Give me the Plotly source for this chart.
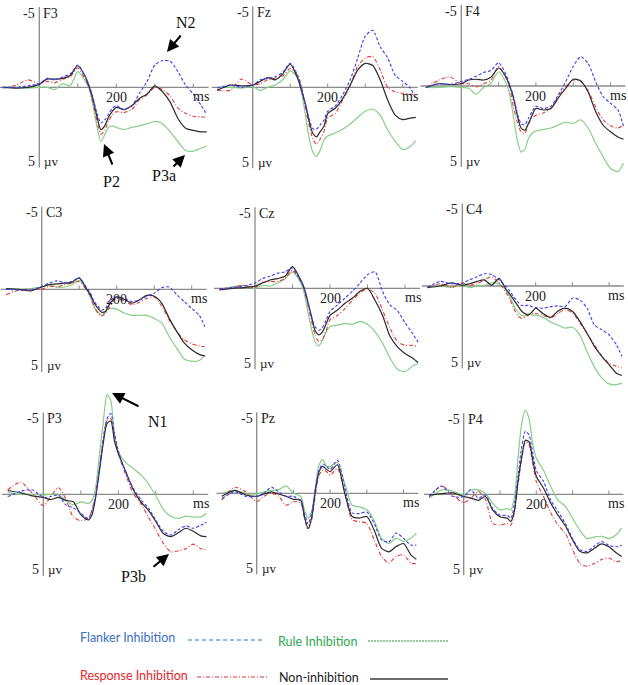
import plotly.graph_objects as go

# ---------------- data (time in ms, amplitude in microvolts; negative plotted upward) -------------
T = [-95, -60, -30, 0, 20, 40, 60, 80, 100, 120, 130, 140, 150, 160, 170, 180, 190, 200,
     220, 240, 260, 280, 300, 320, 340, 360, 380, 400, 420, 435]

F3_flanker = [0, 0, -0.1, -0.25, -0.6, -0.5, -0.7, -0.9, -1.5, -0.7, -0.1, 0.75, 1.75, 2.4, 2.2, 1.8, 1.4, 1.25, 1.5, 1.25, 0.4, -0.4, -1.5, -1.8, -1.75, -1.05, -0.15, 0.45, 1.2, 1.85]
F3_rule = [0, 0, 0.05, 0, 0, 0.15, -0.25, -0.1, -1.05, -0.4, 0.1, 1.3, 2.65, 3.65, 3.2, 2.7, 2.6, 2.7, 2.85, 2.7, 2.6, 2.45, 2.3, 2.45, 3.0, 3.65, 4.25, 4.3, 4.1, 3.95]
F3_response = [0.05, -0.15, -0.5, -0.25, -0.4, -0.3, -0.55, -0.7, -1.3, -0.5, 0.1, 1.1, 2.3, 3.15, 2.9, 2.25, 1.85, 1.65, 1.7, 1.5, 0.85, 0.5, 0.0, 0.15, 0.6, 1.4, 1.75, 1.95, 2.0, 2.0]
F3_non = [0, 0.05, 0, -0.2, -0.55, -0.55, -0.6, -0.8, -1.45, -0.7, 0, 0.85, 2.0, 2.85, 2.6, 2.0, 1.6, 1.35, 1.5, 1.25, 0.75, 0.45, -0.1, 0.3, 1.0, 2.1, 2.75, 2.9, 3.0, 3.0]

Fz_flanker = [0.05, -0.15, 0, -0.15, -0.5, -0.6, -0.7, -1.0, -1.6, -0.8, 0.05, 1.05, 2.05, 2.75, 2.8, 2.5, 2.2, 1.6, 1.25, 0.5, -0.5, -1.95, -3.4, -3.8, -2.7, -1.95, -0.8, -0.4, 0.05, 0.75]
Fz_rule = [0, 0, 0.05, -0.05, 0.2, 0, -0.15, -0.5, -1.1, -0.6, 0.3, 1.75, 3.3, 4.3, 4.6, 4.2, 3.5, 3.25, 3.05, 2.8, 2.45, 2.0, 1.6, 1.45, 1.85, 2.85, 3.6, 4.15, 3.95, 3.55]
Fz_response = [0.2, 0.2, -0.55, -0.15, -0.25, -0.5, -0.6, -0.75, -1.25, -0.8, -0.05, 1.3, 2.5, 3.4, 3.8, 3.45, 2.95, 2.05, 1.75, 0.85, -0.1, -1.4, -1.95, -2.05, -1.15, 0, 0.3, 0.4, 0.45, 0.5]
Fz_non = [0.2, -0.15, -0.1, -0.15, -0.4, -0.65, -0.5, -0.9, -1.55, -0.6, 0.2, 1.05, 2.2, 3.05, 3.3, 2.95, 2.6, 1.75, 1.4, 0.75, -0.15, -1.15, -1.6, -1.45, -0.5, 0.85, 1.85, 2.15, 2.05, 2.0]

F4_flanker = [0.1, -0.15, -0.1, -0.3, -0.45, -0.65, -0.9, -1.05, -1.55, -0.75, -0.05, 0.7, 1.8, 2.5, 2.6, 2.15, 1.7, 1.35, 1.5, 1.35, 0.6, -0.3, -1.3, -1.95, -1.5, -0.3, 0.7, 1.15, 1.6, 2.7]
F4_rule = [0.1, 0.1, 0.05, 0.1, 0.15, 0.55, 0.1, -0.2, -0.95, -0.2, 0.6, 2.05, 3.6, 4.4, 4.25, 3.5, 3.15, 3.0, 2.9, 2.8, 2.6, 2.4, 2.5, 2.25, 2.8, 3.8, 4.7, 5.5, 5.7, 5.15]
F4_response = [0.1, -0.4, -0.6, -0.15, -0.15, 0.05, -0.15, -0.4, -1.3, -0.5, 0.15, 1.4, 2.4, 3.05, 3.15, 2.55, 2.15, 1.95, 1.8, 1.5, 0.7, 0.05, -0.4, -0.3, 0.3, 1.4, 2.25, 2.65, 2.8, 2.6]
F4_non = [0.1, -0.15, -0.1, -0.15, -0.4, -0.45, -0.4, -0.6, -1.2, -0.6, 0, 0.8, 1.95, 2.8, 2.95, 2.5, 1.95, 1.5, 1.6, 1.5, 0.8, 0.15, -0.45, -0.35, 0.4, 1.7, 2.6, 3.05, 3.4, 3.55]

C3_flanker = [0, 0.05, 0.05, -0.2, -0.4, -0.55, -0.45, -0.5, -0.75, -0.1, 0.25, 0.8, 1.1, 1.35, 1.25, 0.85, 0.6, 0.5, 0.6, 0.8, 0.7, 0.45, 0.25, -0.1, -0.15, 0.35, 0.8, 1.25, 1.7, 2.45]
C3_rule = [-0.05, 0, -0.05, -0.15, -0.3, -0.15, -0.15, -0.3, -0.6, 0, 0.5, 1.15, 1.5, 1.7, 1.45, 1.25, 1.25, 1.3, 1.55, 1.7, 1.7, 1.7, 1.9, 2.2, 3.1, 3.85, 4.55, 4.7, 4.65, 4.3]
C3_response = [0.35, 0.05, 0, 0, -0.2, -0.15, -0.3, -0.4, -0.5, 0.05, 0.5, 1.15, 1.55, 1.75, 1.55, 1.2, 0.8, 0.6, 0.75, 1.0, 0.85, 0.6, 0.5, 1.1, 2.0, 2.75, 3.3, 3.55, 3.7, 3.75]
C3_non = [-0.05, 0, 0.1, -0.15, -0.3, -0.35, -0.4, -0.45, -0.75, 0, 0.35, 0.9, 1.25, 1.5, 1.45, 1.0, 0.7, 0.5, 0.65, 0.9, 0.7, 0.4, 0.45, 0.9, 1.9, 2.75, 3.5, 3.95, 4.25, 4.35]

Cz_flanker = [0.05, -0.05, -0.15, -0.35, -0.65, -0.8, -1.0, -1.1, -1.35, -0.55, -0.05, 0.8, 1.9, 2.55, 2.8, 2.6, 2.1, 1.55, 1.1, 0.65, 0.2, -0.35, -0.9, -1.1, 0.2, 1.1, 1.5, 2.3, 3.0, 3.6]
Cz_rule = [0.05, -0.1, -0.2, 0, -0.2, -0.15, -0.35, -0.65, -1.1, -0.45, 0.2, 1.45, 2.65, 3.55, 3.85, 3.45, 2.9, 2.55, 2.45, 2.35, 2.4, 2.2, 2.4, 2.9, 3.65, 4.65, 5.4, 5.55, 5.2, 5.0]
Cz_response = [0.05, -0.05, -0.2, -0.05, -0.4, -0.45, -0.45, -0.65, -1.2, -0.55, -0.05, 1.0, 2.1, 3.1, 3.55, 3.4, 2.8, 2.1, 1.8, 1.35, 0.8, 0.3, 0.05, 0.35, 1.45, 2.65, 3.55, 3.8, 3.8, 3.9]
Cz_non = [0.1, 0, -0.05, -0.15, -0.35, -0.55, -0.65, -0.8, -1.45, -0.65, -0.1, 0.8, 1.8, 2.8, 3.1, 2.9, 2.35, 1.8, 1.45, 1.0, 0.65, 0.2, 0, 0.8, 1.8, 3.2, 3.9, 4.35, 4.65, 4.95]

C4_flanker = [0.1, -0.3, -0.15, -0.2, -0.4, -0.6, -0.8, -0.75, -0.4, 0.05, 0.35, 0.7, 1.0, 1.25, 1.3, 1.25, 1.35, 1.4, 1.45, 1.35, 1.3, 1.35, 0.8, 0.9, 1.45, 2.55, 2.85, 3.2, 3.85, 4.6]
C4_rule = [0.1, 0, 0.1, -0.05, 0.1, 0, -0.05, -0.2, -0.15, 0.3, 0.7, 1.25, 1.65, 1.9, 1.95, 1.8, 1.9, 1.9, 2.05, 2.35, 2.55, 2.75, 2.7, 3.2, 4.3, 5.3, 6.0, 6.4, 6.45, 6.35]
C4_response = [0.1, -0.15, 0.1, -0.2, -0.05, -0.15, -0.4, -0.6, -0.2, 0.45, 0.9, 1.45, 1.9, 2.1, 2.05, 1.9, 1.8, 1.8, 1.9, 2.1, 1.8, 1.55, 1.75, 2.4, 3.1, 3.85, 4.55, 5.05, 5.25, 5.35]
C4_non = [0.1, 0, -0.2, -0.05, -0.15, -0.3, -0.4, -0.05, -0.5, 0.25, 0.55, 0.9, 1.25, 1.6, 1.8, 1.9, 1.7, 1.45, 1.8, 2.05, 1.65, 1.45, 1.65, 2.3, 3.1, 3.95, 4.6, 5.15, 5.7, 5.85]

P3_flanker = [0.15, -0.2, -0.3, 0.2, 0.15, 0.05, 0.7, 0.9, 1.25, 1.6, 1.05, 0.05, -1.8, -3.7, -5.0, -5.35, -4.0, -2.9, -1.4, -0.4, 0.35, 0.9, 1.7, 2.45, 2.7, 2.35, 2.1, 2.25, 2.05, 1.85]
P3_rule = [-0.15, 0, 0, 0.05, 0, 0, 0.4, 0.7, 0.5, 0.6, 0.4, -0.5, -2.7, -4.8, -6.6, -6.2, -3.8, -2.8, -2.1, -1.7, -1.3, -0.7, 0.1, 1.0, 1.45, 1.6, 1.45, 1.5, 1.5, 1.25]
P3_response = [-0.3, -0.8, -0.1, 0.75, 0.15, -0.45, 0.3, 1.5, 1.75, 1.6, 1.05, -0.05, -1.8, -3.7, -4.9, -5.0, -3.9, -2.7, -1.3, -0.05, 0.6, 1.5, 2.35, 3.25, 3.8, 3.75, 3.6, 3.3, 3.6, 3.65]
P3_non = [-0.25, -0.1, 0.1, 0.2, 0.35, 0.2, 0.4, 0.5, 1.35, 1.7, 1.35, 0.15, -1.6, -3.4, -4.7, -4.85, -3.5, -2.7, -1.5, -0.3, 0.5, 1.05, 1.8, 2.6, 2.8, 2.55, 2.25, 2.45, 2.75, 2.8]

Pz_flanker = [0.35, -0.1, 0.2, 0.2, 0, -0.4, -0.1, 0.2, 0.2, 0.55, 1.3, 2.05, 1.3, -0.3, -1.55, -1.95, -1.8, -1.6, -2.2, -0.4, 1.3, 1.35, 1.25, 2.0, 3.1, 3.25, 2.65, 3.0, 3.45, 3.45]
Pz_rule = [0, -0.2, 0, 0.05, -0.1, -0.2, -0.25, -0.5, 0, 0.2, 1.1, 1.65, 1.2, -0.45, -1.9, -2.25, -1.8, -1.8, -2.05, -0.65, 0.8, 0.9, 1.1, 1.8, 3.0, 3.35, 3.0, 3.2, 3.0, 2.65]
Pz_response = [0.45, -0.4, -0.1, 0.55, 0.2, 0, 0.2, 0.8, 0.55, 0.65, 1.65, 2.4, 1.75, 0.1, -1.2, -1.55, -1.45, -1.2, -1.65, 0, 1.75, 1.9, 2.0, 3.1, 4.2, 4.65, 4.2, 4.1, 4.65, 4.7]
Pz_non = [0.2, -0.2, 0.1, 0.2, 0.05, -0.1, 0.05, 0.2, 0.4, 0.45, 1.55, 2.35, 1.6, -0.2, -1.45, -1.8, -1.6, -1.45, -1.9, 0.0, 1.55, 1.65, 1.55, 2.45, 3.65, 3.9, 3.55, 3.35, 4.1, 4.4]

P4_flanker = [0.15, -0.55, 0.15, 0.15, -0.3, 0.25, 0.05, 0.95, 1.4, 1.4, 1.6, 0.6, -1.3, -3.2, -4.2, -3.95, -2.8, -1.6, -0.85, 0.4, 1.15, 1.95, 2.95, 3.7, 3.8, 3.45, 3.15, 3.4, 3.5, 3.4]
P4_rule = [0.25, -0.3, -0.2, 0.05, -0.3, -0.3, -0.05, 0.6, 1.05, 0.95, 1.05, 0.15, -2.5, -4.75, -5.6, -5.05, -3.4, -2.4, -1.6, -0.5, 0.4, 0.8, 1.6, 2.4, 2.95, 2.85, 2.8, 2.95, 2.7, 2.25]
P4_response = [0.15, -0.55, 0.05, 0.55, 0.25, -0.2, 0.35, 1.95, 2.05, 1.95, 2.05, 1.15, -0.7, -2.4, -3.5, -3.3, -2.1, -0.85, 0.15, 1.25, 2.05, 2.6, 3.7, 4.6, 4.8, 4.6, 4.35, 4.25, 4.5, 4.4]
P4_non = [0.05, -0.05, -0.1, 0.15, 0.25, 0.4, 0.15, 1.05, 1.5, 1.6, 1.8, 1.05, -0.95, -2.5, -3.6, -3.5, -2.3, -1.2, -0.4, 0.6, 1.4, 2.1, 3.05, 3.8, 3.9, 3.6, 3.3, 3.5, 3.9, 4.15]

CHANNELS = ["F3", "Fz", "F4", "C3", "Cz", "C4", "P3", "Pz", "P4"]
SERIES = [
    [F3_flanker, F3_rule, F3_response, F3_non],
    [Fz_flanker, Fz_rule, Fz_response, Fz_non],
    [F4_flanker, F4_rule, F4_response, F4_non],
    [C3_flanker, C3_rule, C3_response, C3_non],
    [Cz_flanker, Cz_rule, Cz_response, Cz_non],
    [C4_flanker, C4_rule, C4_response, C4_non],
    [P3_flanker, P3_rule, P3_response, P3_non],
    [Pz_flanker, Pz_rule, Pz_response, Pz_non],
    [P4_flanker, P4_rule, P4_response, P4_non],
]
CONDITIONS = ["Flanker Inhibition", "Rule Inhibition", "Response Inhibition", "Non-inhibition"]
AXIS_TICKS = [100, 200, 300, 400]

# ---------------- layout geometry (pixels) ----------------
W, H = 628, 685
# per panel: pixel x of t=0, px per ms, pixel y of 0 uV, px per uV
GEOM = [
    (39.3, 0.385, 87.3, 14.85), (252.7, 0.375, 87.3, 15.0), (461.3, 0.373, 86.0, 15.0),
    (41.7, 0.375, 289.3, 15.3), (255.0, 0.375, 288.3, 15.0), (462.3, 0.367, 286.0, 15.3),
    (43.3, 0.375, 494.3, 15.1), (256.7, 0.367, 493.3, 15.0), (463.7, 0.363, 494.3, 15.0),
]
ROWS = [(0, 182), (190, 396), (383, 596)]

# style for each condition: (colour, dash, width)
STYLES = [
    ("#3b3bf2", "3px,2px", 1.1),
    ("#86cf86", "solid", 1.2),
    ("#e63a36", "4px,2px,1px,2px", 1.1),
    ("#2a2a2a", "solid", 1.2),
]
DRAW_ORDER = [1, 2, 3, 0]

SERIF = "Liberation Serif"
AXCOL = "#8a8a8a"

fig = go.Figure()
shapes = []
annotations = []

for i, name in enumerate(CHANNELS):
    t0, s, y0, k = GEOM[i]
    top, bot = ROWS[i // 3]
    L = max(0.0, t0 - 110 * s)
    R = min(W, t0 + 445 * s)
    xr = [(L - t0) / s, (R - t0) / s]
    yr = [(bot - y0) / k, (top - y0) / k]
    sfx = "" if i == 0 else str(i + 1)
    xa, ya = "x" + sfx, "y" + sfx
    fig.layout["xaxis" + sfx] = dict(domain=[L / W, R / W], range=xr, visible=False,
                                     anchor=ya, fixedrange=True)
    fig.layout["yaxis" + sfx] = dict(domain=[1 - bot / H, 1 - top / H], range=yr,
                                     visible=False, anchor=xa, fixedrange=True)

    # axes
    shapes.append(dict(type="line", xref=xa, yref=ya, x0=0, x1=0, y0=-5.4, y1=5.4,
                       line=dict(color=AXCOL, width=1.3), layer="below"))
    shapes.append(dict(type="line", xref=xa, yref=ya, x0=xr[0], x1=440, y0=0, y1=0,
                       line=dict(color=AXCOL, width=1.3), layer="below"))
    for tk in AXIS_TICKS:
        shapes.append(dict(type="line", xref=xa, yref=ya, x0=tk, x1=tk, y0=0, y1=-0.25,
                           line=dict(color=AXCOL, width=1), layer="below"))

    # curves
    for j in DRAW_ORDER:
        col, dash, wd = STYLES[j]
        fig.add_trace(go.Scatter(x=T, y=SERIES[i][j], mode="lines", xaxis=xa, yaxis=ya,
                                 line=dict(color=col, dash=dash, width=wd, shape="spline",
                                           smoothing=0.7),
                                 name=CONDITIONS[j], showlegend=False, hoverinfo="skip"))

    tf = dict(family=SERIF, size=14, color="#222")
    annotations += [
        dict(x=0, y=-5, xref=xa, yref=ya, text="-5", showarrow=False, xanchor="right",
             xshift=-2, font=tf),
        dict(x=0, y=-5, xref=xa, yref=ya, text=name, showarrow=False, xanchor="left",
             xshift=2, font=tf),
        dict(x=0, y=5, xref=xa, yref=ya, text="5", showarrow=False, xanchor="right",
             xshift=-2, font=tf),
        dict(x=0, y=5, xref=xa, yref=ya, text="µv", showarrow=False, xanchor="left",
             xshift=3, font=dict(family=SERIF, size=13, color="#222")),
        dict(x=200, y=0, xref=xa, yref=ya, text="200", showarrow=False, yanchor="top",
             yshift=-1, font=tf),
        dict(x=420, y=0, xref=xa, yref=ya, text="ms", showarrow=False, yanchor="top",
             yshift=0, font=tf),
    ]

def px(x, y):
    return x / W, 1 - y / H

# component labels with arrows (positions in pixels)
COMPONENTS = [
    ("N2", (186, 22), (167, 52), (15, -18)),
    ("P2", (112, 181), (104, 144), (9, 22)),
    ("P3a", (164, 175), (185, 155), (-13, 13)),
    ("N1", (158, 421), (112, 393), (28, 14)),
    ("P3b", (133, 576), (169, 554), (-17, 14)),
]
for label, tpos, head, off in COMPONENTS:
    tx, ty = px(*tpos)
    annotations.append(dict(x=tx, y=ty, xref="paper", yref="paper", text=label, showarrow=False,
                            xanchor="center", yanchor="middle",
                            font=dict(family=SERIF, size=16, color="#111")))
    hx, hy = px(*head)
    annotations.append(dict(x=hx, y=hy, xref="paper", yref="paper", text="", showarrow=True,
                            ax=off[0], ay=off[1], arrowhead=2, arrowsize=1.2, arrowwidth=2,
                            arrowcolor="#000"))

# legend drawn manually
LEG = [
    ("Flanker Inhibition", "#3a6fc1", (78, 637), (188, 265, 640), "#5aaee8", "4px,3px", 1.3),
    ("Rule Inhibition", "#2ea84f", (276, 641), (368, 448, 641), "#3a9a3a", "2px,1px", 1.1),
    ("Response Inhibition", "#e5262b", (78, 675), (197, 268, 677), "#e0303a", "4px,2px,1px,2px", 1.2),
    ("Non-inhibition", "#222222", (277, 677), (370, 448, 679), "#6b6b6b", "solid", 2),
]
for text, tcol, (tx, ty), (lx0, lx1, ly), lcol, ldash, lw in LEG:
    ax_, ay_ = px(tx, ty)
    annotations.append(dict(x=ax_, y=ay_, xref="paper", yref="paper", text=text,
                            showarrow=False, xanchor="left", yanchor="middle",
                            font=dict(family="Lato", size=12.5, color=tcol)))
    x0, yy = px(lx0, ly)
    x1, _ = px(lx1, ly)
    shapes.append(dict(type="line", xref="paper", yref="paper", x0=x0, x1=x1, y0=yy, y1=yy,
                       line=dict(color=lcol, width=lw, dash=ldash)))

fig.update_layout(width=W, height=H, margin=dict(l=0, r=0, t=0, b=0),
                  paper_bgcolor="white", plot_bgcolor="rgba(0,0,0,0)",
                  shapes=shapes, annotations=annotations, showlegend=False)

fig.write_html("out.html", config={"displayModeBar": False},
               post_script="document.body.style.margin='0px';")
